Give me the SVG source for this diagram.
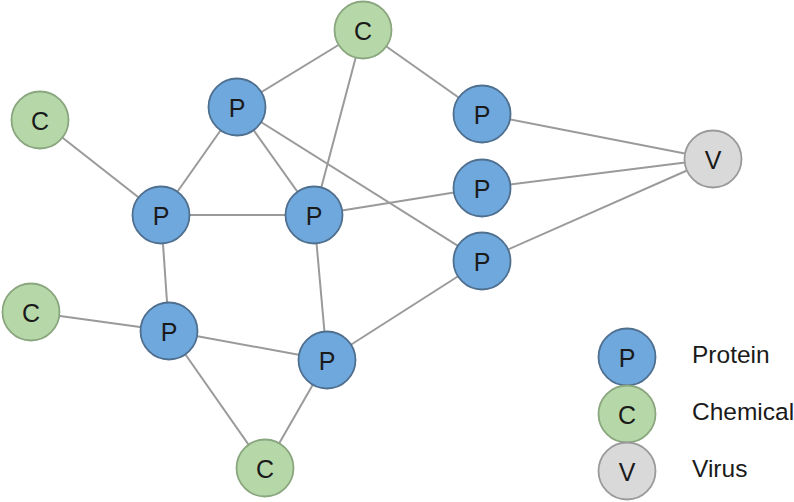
<svg xmlns="http://www.w3.org/2000/svg" width="794" height="502" viewBox="0 0 794 502">
<style>
.e{stroke:#9a9a9a;stroke-width:2;fill:none}
.p{fill:#6fa8dc;stroke:#4f6f8f;stroke-width:1.8}
.c{fill:#b6d7a8;stroke:#8aa67f;stroke-width:1.8}
.v{fill:#d9d9d9;stroke:#9a9a9a;stroke-width:1.8}
.t{font-family:"Liberation Sans",Arial,sans-serif;font-size:25px;fill:#1a1a1a;text-anchor:middle;dominant-baseline:central}
.l{font-family:"Liberation Sans",Arial,sans-serif;font-size:24.5px;fill:#1a1a1a}
</style>
<rect width="794" height="502" fill="#fff"/>
<g id="edges">
<line class="e" x1="363" y1="30" x2="237" y2="107"/>
<line class="e" x1="363" y1="30" x2="314" y2="215"/>
<line class="e" x1="363" y1="30" x2="482" y2="114"/>
<line class="e" x1="237" y1="107" x2="161" y2="215"/>
<line class="e" x1="237" y1="107" x2="314" y2="215"/>
<line class="e" x1="237" y1="107" x2="482" y2="261"/>
<line class="e" x1="40" y1="120" x2="161" y2="215"/>
<line class="e" x1="161" y1="215" x2="314" y2="215"/>
<line class="e" x1="161" y1="215" x2="169" y2="331"/>
<line class="e" x1="314" y1="215" x2="482" y2="188"/>
<line class="e" x1="314" y1="215" x2="327" y2="360"/>
<line class="e" x1="482" y1="114" x2="713" y2="159"/>
<line class="e" x1="482" y1="188" x2="713" y2="159"/>
<line class="e" x1="482" y1="261" x2="713" y2="159"/>
<line class="e" x1="31" y1="312" x2="169" y2="331"/>
<line class="e" x1="169" y1="331" x2="327" y2="360"/>
<line class="e" x1="169" y1="331" x2="265" y2="468"/>
<line class="e" x1="327" y1="360" x2="265" y2="468"/>
<line class="e" x1="327" y1="360" x2="482" y2="261"/>
</g>
<g id="c-top"><circle class="c" cx="363" cy="30" r="28.5"/><text class="t" x="363" y="31">C</text></g>
<g id="p-1"><circle class="p" cx="237" cy="107" r="28.5"/><text class="t" x="237" y="108">P</text></g>
<g id="p-topright"><circle class="p" cx="482" cy="114" r="28.5"/><text class="t" x="482" y="115">P</text></g>
<g id="v-node"><circle class="v" cx="713" cy="159" r="28.5"/><text class="t" x="713" y="160">V</text></g>
<g id="c-lefttop"><circle class="c" cx="40" cy="120" r="28.5"/><text class="t" x="40" y="121">C</text></g>
<g id="p-left"><circle class="p" cx="161" cy="215" r="28.5"/><text class="t" x="161" y="216">P</text></g>
<g id="p-center"><circle class="p" cx="314" cy="215" r="28.5"/><text class="t" x="314" y="216">P</text></g>
<g id="p-rightmid"><circle class="p" cx="482" cy="188" r="28.5"/><text class="t" x="482" y="189">P</text></g>
<g id="p-rightlow"><circle class="p" cx="482" cy="261" r="28.5"/><text class="t" x="482" y="262">P</text></g>
<g id="c-leftbottom"><circle class="c" cx="31" cy="312" r="28.5"/><text class="t" x="31" y="313">C</text></g>
<g id="p-lowerleft"><circle class="p" cx="169" cy="331" r="28.5"/><text class="t" x="169" y="332">P</text></g>
<g id="p-bottom"><circle class="p" cx="327" cy="360" r="28.5"/><text class="t" x="327" y="361">P</text></g>
<g id="c-bottom"><circle class="c" cx="265" cy="468" r="28.5"/><text class="t" x="265" y="469">C</text></g>
<g id="legend">
<g id="legend-p"><circle class="p" cx="627" cy="357" r="28.5"/><text class="t" x="627" y="358">P</text><text class="l" x="692" y="363">Protein</text></g>
<g id="legend-c"><circle class="c" cx="627" cy="414" r="28.5"/><text class="t" x="627" y="415">C</text><text class="l" x="692" y="420">Chemical</text></g>
<g id="legend-v"><circle class="v" cx="627" cy="471" r="28.5"/><text class="t" x="627" y="472">V</text><text class="l" x="692" y="477">Virus</text></g>
</g>
</svg>
